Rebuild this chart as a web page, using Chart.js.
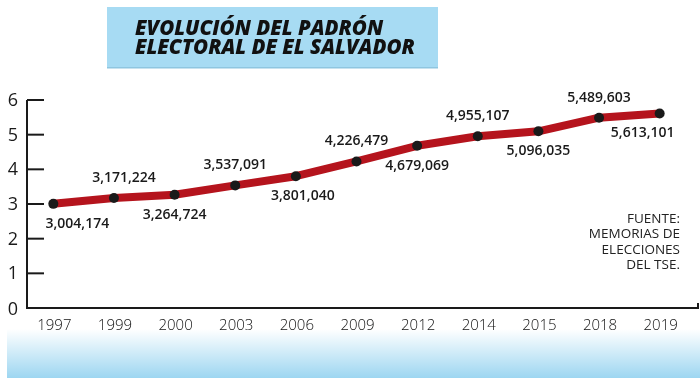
<!DOCTYPE html>
<html><head><meta charset="utf-8">
<style>html,body{margin:0;padding:0;background:#fff;}canvas{display:block}</style>
<script src="https://cdn.jsdelivr.net/npm/chart.js@4.4.0/dist/chart.umd.min.js"></script>
</head><body>
<canvas id="c" width="700" height="385"></canvas>
<script>
const years = ['1997','1999','2000','2003','2006','2009','2012','2014','2015','2018','2019'];
const voters = [3004174, 3171224, 3264724, 3537091, 3801040, 4226479, 4679069, 4955107, 5096035, 5489603, 5613101];
const yTicks = [0, 1, 2, 3, 4, 5, 6];
const titleLines = ['EVOLUCIÓN DEL PADRÓN', 'ELECTORAL DE EL SALVADOR'];
const sourceLines = ['FUENTE:', 'MEMORIAS DE', 'ELECCIONES', 'DEL TSE.'];

const millions = voters.map(v => v / 1e6);
const fmt = n => n.toLocaleString('en-US');

const decor = {
  id: 'decor',
  beforeDraw(chart) {
    const ctx = chart.ctx;
    ctx.save();
    ctx.fillStyle = '#fff';
    ctx.fillRect(0, 0, chart.width, chart.height);
    // title box
    ctx.fillStyle = '#a7dbf3';
    ctx.fillRect(107, 7, 331, 61);
    ctx.fillStyle = '#8fc6e0';
    ctx.fillRect(107, 67, 331, 1.5);
    ctx.fillStyle = '#111';
    ctx.font = 'italic 800 20.5px "Open Sans", "DejaVu Sans", sans-serif';
    ctx.textAlign = 'left';
    ctx.textBaseline = 'alphabetic';
    ctx.fillText(titleLines[0], 135, 35);
    ctx.fillText(titleLines[1], 135, 54);
    // bottom band
    const g = ctx.createLinearGradient(0, 329, 0, 378);
    g.addColorStop(0, '#ffffff');
    g.addColorStop(1, '#9dd6f1');
    ctx.fillStyle = g;
    ctx.fillRect(7, 329, 693, 49);
    // source
    ctx.fillStyle = '#222';
    ctx.font = '13.5px "Open Sans", sans-serif';
    ctx.textAlign = 'right';
    ctx.textBaseline = 'middle';
    sourceLines.forEach((s, i) => ctx.fillText(s, 680, 219 + i * 15.5));
    ctx.restore();
  },
  beforeDatasetsDraw(chart) {
    const ctx = chart.ctx;
    const y = chart.scales.y, x = chart.scales.x;
    const ax = 27;
    const y0 = y.getPixelForValue(0);
    const yTop = y.getPixelForValue(yTicks[yTicks.length - 1]);
    ctx.save();
    ctx.strokeStyle = '#1a1a1a';
    ctx.lineWidth = 2;
    ctx.beginPath();
    ctx.moveTo(ax, yTop);
    ctx.lineTo(ax, y0);
    ctx.lineTo(698, y0);
    ctx.lineTo(698, y0 - 5);
    ctx.stroke();
    yTicks.forEach(t => {
      if (t === 0) return;
      const py = y.getPixelForValue(t);
      ctx.beginPath();
      ctx.moveTo(ax, py);
      ctx.lineTo(ax + 17, py);
      ctx.stroke();
    });
    ctx.fillStyle = '#1a1a1a';
    ctx.font = '18px "Open Sans", sans-serif';
    ctx.textAlign = 'center';
    ctx.textBaseline = 'middle';
    yTicks.forEach(t => ctx.fillText(String(t), 13, y.getPixelForValue(t) + (t === 0 ? 2 : 1)));
    ctx.font = '300 15px "Open Sans", sans-serif';
    ctx.fillStyle = '#111';
    years.forEach((yr, i) => ctx.fillText(yr, x.getPixelForValue(i) + 1, 326));
    ctx.restore();
  },
  afterDatasetsDraw(chart) {
    const ctx = chart.ctx;
    const meta = chart.getDatasetMeta(0);
    ctx.save();
    ctx.fillStyle = '#1a1a1a';
    ctx.font = '600 14px "Open Sans", sans-serif';
    ctx.textAlign = 'center';
    ctx.textBaseline = 'middle';
    meta.data.forEach((pt, i) => {
      const above = i % 2 === 1;
      let dx = 0;
      if (i === 0) dx = 24;
      else if (i === meta.data.length - 1) dx = -17;
      else if (i === 1) dx = 10;
      else if (i === 4) dx = 7;
      ctx.fillText(fmt(voters[i]), pt.x + dx, pt.y + (above ? -20 : 20));
    });
    ctx.restore();
  }
};

new Chart(document.getElementById('c'), {
  type: 'line',
  data: {
    labels: years,
    datasets: [{
      data: millions,
      borderColor: '#b5141d',
      borderWidth: 8,
      borderJoinStyle: 'round',
      borderCapStyle: 'round',
      tension: 0,
      pointRadius: 5,
      pointBackgroundColor: '#1a1a1a',
      pointBorderWidth: 0,
      fill: false
    }]
  },
  options: {
    responsive: false,
    animation: false,
    layout: { padding: { top: 100, bottom: 77, left: 23, right: 10 } },
    plugins: { legend: { display: false }, tooltip: { enabled: false }, title: { display: false } },
    scales: {
      x: { type: 'category', display: false, offset: true },
      y: { display: false, min: 0, max: 6 }
    }
  },
  plugins: [decor]
});
</script>
</body></html>
